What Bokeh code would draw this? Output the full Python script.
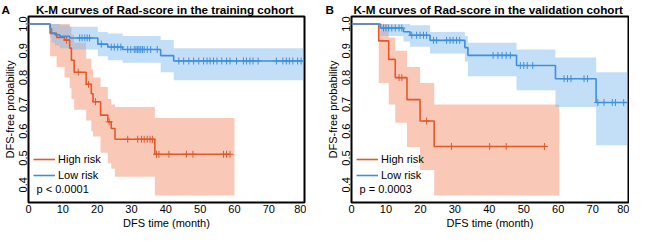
from bokeh.plotting import figure
from bokeh.models import Range1d, FixedTicker, PrintfTickFormatter, Legend, LegendItem, Label
from bokeh.layouts import row
from bokeh.embed import file_html
from bokeh.resources import INLINE
import numpy as np

# ---------------- data ----------------
# Panel A: training cohort
A_high_t  = [0, 6.3, 8.2, 10.5, 12.0, 12.5, 13.3, 16.8, 18.3, 18.8, 21.0, 23.1, 24.1, 25.2, 36.8]
A_high_s  = [1.0, 0.965, 0.95, 0.94, 0.91, 0.865, 0.82, 0.775, 0.74, 0.71, 0.66, 0.635, 0.61, 0.57, 0.514]
A_high_lo = [1.0, 0.88, 0.84, 0.80, 0.76, 0.72, 0.68, 0.64, 0.60, 0.58, 0.52, 0.48, 0.46, 0.43, 0.36]
A_high_hi = [1.0, 1.0, 1.0, 1.0, 0.99, 0.96, 0.93, 0.87, 0.83, 0.80, 0.765, 0.72, 0.70, 0.69, 0.649]
A_high_end_line = 58.7
A_high_end_band = 60.0
A_high_cens = [11.1, 14.5, 17.5, 19.5, 23.5, 28.9, 31.8, 32.9, 33.7, 34.6, 35.4, 36.1,
               37.3, 38.0, 40.9, 46.0, 47.9, 56.8, 57.7, 58.7]

A_low_t  = [0, 6.3, 6.7, 7.7, 9.1, 12.0, 20.2, 23.1, 27.4, 38.5, 42.3]
A_low_s  = [1.0, 0.983, 0.966, 0.96, 0.954, 0.948, 0.925, 0.914, 0.905, 0.882, 0.862]
A_low_lo = [1.0, 0.95, 0.93, 0.92, 0.91, 0.905, 0.88, 0.865, 0.855, 0.82, 0.79]
A_low_hi = [1.0, 1.0, 1.0, 1.0, 0.995, 0.99, 0.97, 0.965, 0.955, 0.94, 0.91]
A_low_end = 80.0
A_low_cens = [14.9, 15.6, 16.4, 17.1, 17.8, 21.2, 24.1, 25.0, 26.0, 26.9, 28.9, 29.8, 30.8,
              31.3, 31.8, 32.2, 32.7, 33.2, 33.7, 34.6, 35.6, 37.5, 43.8, 45.2, 46.7, 48.1,
              49.6, 51.0, 52.0, 52.9, 53.9, 54.9, 56.3, 57.7, 58.7, 60.6, 62.6, 63.5, 64.5,
              65.4, 66.9, 72.2, 74.1, 75.1, 76.0, 77.0, 78.4, 79.4]
A_p = "p < 0.0001"

# Panel B: validation cohort
B_high_t  = [0, 7.9, 10.8, 12.7, 16.1, 19.9, 24.0]
B_high_s  = [1.0, 0.937, 0.868, 0.80, 0.718, 0.638, 0.543]
B_high_lo = [1.0, 0.78, 0.70, 0.632, 0.541, 0.455, 0.36]
B_high_hi = [1.0, 1.0, 0.95, 0.90, 0.84, 0.78, 0.70]
B_high_end_line = 56.4
B_high_end_band = 60.3
B_high_cens = [13.8, 14.6, 21.8, 29.0, 40.1, 44.9, 56.0]

B_low_t  = [0, 8.4, 15.1, 17.0, 22.8, 32.9, 33.8, 47.9, 59.2, 71.0]
B_low_s  = [1.0, 0.985, 0.971, 0.958, 0.939, 0.912, 0.883, 0.845, 0.796, 0.707]
B_low_lo = [1.0, 0.955, 0.935, 0.915, 0.89, 0.86, 0.805, 0.753, 0.69, 0.548]
B_low_hi = [1.0, 1.0, 1.0, 0.995, 0.97, 0.955, 0.93, 0.905, 0.875, 0.82]
B_low_end = 80.0
B_low_cens = [9.3, 10.0, 10.8, 11.7, 12.7, 13.8, 14.6, 17.5, 18.9, 19.9, 20.9, 21.8, 23.8,
              24.7, 27.6, 28.6, 29.5, 30.5, 31.4, 41.1, 42.5, 43.7, 44.9, 46.1, 49.0, 50.0,
              51.0, 52.6, 61.7, 62.7, 63.7, 67.5, 68.5, 71.5, 73.3, 75.7, 76.6, 79.0]
B_p = "p = 0.0003"

x_ticks = [0, 10, 20, 30, 40, 50, 60, 70, 80]
y_ticks = [0.4, 0.5, 0.6, 0.7, 0.8, 0.9, 1.0]
legend_labels = ["High risk", "Low risk"]

ORANGE = "#E05A2B"
BLUE = "#3F8FDC"
ORANGE_FILL = "#F4845F"
BLUE_FILL = "#7AB8F0"
FONT = "Liberation Sans"
NBSP = "\u00a0"


def stepify(t, v, end):
    xs, ys = [], []
    for i in range(len(t)):
        x0 = t[i]
        x1 = t[i + 1] if i + 1 < len(t) else end
        xs += [x0, x1]
        ys += [v[i], v[i]]
    return xs, ys


def surv_at(t, s, xs):
    idx = np.searchsorted(np.array(t), np.array(xs), side="right") - 1
    return [s[i] for i in idx]


def make_panel(title, letter, width, left, right, high, low, ptext, letter_off, gap):
    p = figure(width=width, height=231, x_range=Range1d(0, 80.4), y_range=Range1d(0.334, 1.028),
               output_backend="svg", toolbar_location=None,
               min_border_left=left, min_border_right=right, min_border_top=14, min_border_bottom=28,
               background_fill_color="white", border_fill_color="white")
    p.title.text = letter + NBSP * gap + title
    p.title.align = "left"
    p.title.offset = letter_off
    p.title.text_font = FONT
    p.title.text_font_size = "11.7px"
    p.title.text_font_style = "bold"
    p.title.text_color = "black"
    p.title.standoff = 1
    p.outline_line_color = "black"
    p.outline_line_width = 2
    p.outline_line_alpha = 1
    p.grid.visible = False

    for ax in (p.xaxis[0], p.yaxis[0]):
        ax.axis_line_color = None
        ax.major_tick_line_color = None
        ax.minor_tick_line_color = None
        ax.major_tick_out = 0
        ax.major_tick_in = 0
        ax.minor_tick_out = 0
        ax.minor_tick_in = 0
        ax.major_label_text_font = FONT
        ax.major_label_text_font_size = "11px"
        ax.major_label_text_color = "black"
        ax.axis_label_text_font = FONT
        ax.axis_label_text_font_size = "11px"
        ax.axis_label_text_font_style = "normal"
        ax.axis_label_text_color = "black"
    p.xaxis.major_label_standoff = 2
    p.yaxis.major_label_standoff = 1
    p.xaxis.axis_label_standoff = 1
    p.yaxis.axis_label_standoff = 1
    p.xaxis.ticker = FixedTicker(ticks=x_ticks)
    p.yaxis.ticker = FixedTicker(ticks=y_ticks)
    p.yaxis.formatter = PrintfTickFormatter(format="%.1f")
    p.yaxis.major_label_orientation = "vertical"
    p.xaxis.axis_label = "DFS time (month)"
    p.yaxis.axis_label = "DFS-free probability"

    renderers = []
    for (t, s, lo, hi, end_line, end_band, cens, fill) in (high, low):
        bx, blo = stepify(t, lo, end_band)
        _, bhi = stepify(t, hi, end_band)
        p.varea(x=bx, y1=blo, y2=bhi, fill_color=fill, fill_alpha=0.45)
    for (t, s, lo, hi, end_line, end_band, cens, fill), col in zip((high, low), (ORANGE, BLUE)):
        r = p.step(x=list(t) + [end_line], y=list(s) + [s[-1]], mode="after",
                   line_color=col, line_width=1.6)
        renderers.append(r)
        p.scatter(x=cens, y=surv_at(t, s, cens), marker="cross", size=7,
                  line_color=col, line_width=1)

    legend = Legend(items=[LegendItem(label=legend_labels[0], renderers=[renderers[0]]),
                           LegendItem(label=legend_labels[1], renderers=[renderers[1]])],
                    location=(5, 19), background_fill_alpha=0, border_line_alpha=0,
                    padding=0, margin=0, spacing=0, glyph_width=22, glyph_height=16,
                    label_height=16, label_standoff=3, label_text_font=FONT,
                    label_text_font_size="11px", label_text_color="black")
    p.add_layout(legend)
    p.add_layout(Label(x=8, y=13.5, x_units="screen", y_units="screen", text=ptext,
                       text_font=FONT, text_font_size="11px", text_baseline="middle",
                       text_color="black"))
    return p


pA = make_panel("K-M curves of Rad-score in the training cohort", "A", 306, 28, 2,
                (A_high_t, A_high_s, A_high_lo, A_high_hi, A_high_end_line, A_high_end_band, A_high_cens, ORANGE_FILL),
                (A_low_t, A_low_s, A_low_lo, A_low_hi, A_low_end, A_low_end, A_low_cens, BLUE_FILL),
                A_p, -27, 8)
pB = make_panel("K-M curves of Rad-score in the validation cohort", "B", 323, 45, 1,
                (B_high_t, B_high_s, B_high_lo, B_high_hi, B_high_end_line, B_high_end_band, B_high_cens, ORANGE_FILL),
                (B_low_t, B_low_s, B_low_lo, B_low_hi, B_low_end, B_low_end, B_low_cens, BLUE_FILL),
                B_p, -26, 6)

layout = row(pA, pB)
open("out.html", "w").write(file_html(layout, INLINE))
